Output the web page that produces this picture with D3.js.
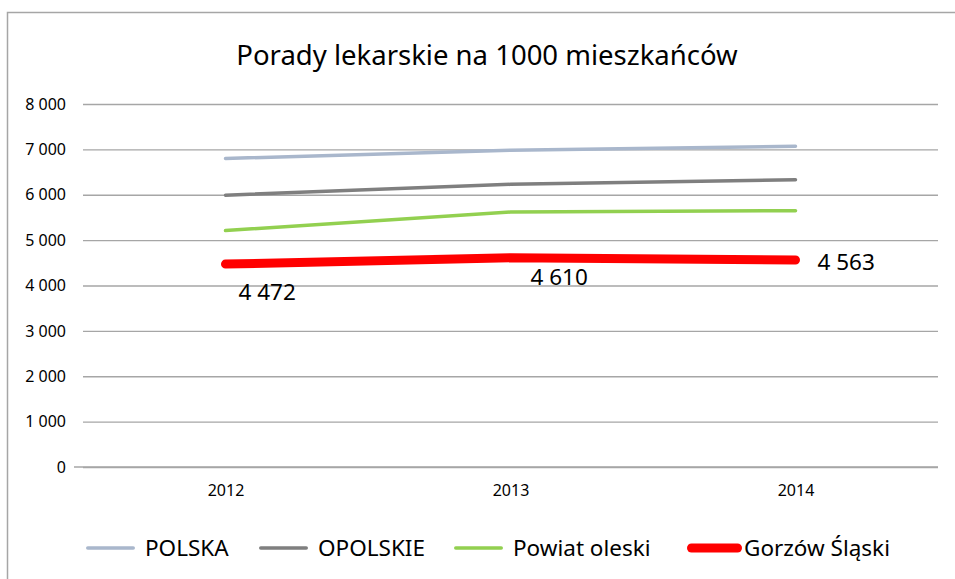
<!DOCTYPE html>
<html>
<head>
<meta charset="utf-8">
<script src="https://cdn.jsdelivr.net/npm/d3@7"></script>
<style>
  body { margin: 0; background: #fff; }
  text { font-family: "Noto Sans", "Open Sans", sans-serif; fill: #000; }
  .tick text { font-size: 16px; }
</style>
</head>
<body>
<script>
// dane
var years = ['2012', '2013', '2014'];
var seriesNames = ['POLSKA', 'OPOLSKIE', 'Powiat oleski', 'Gorzów Śląski'];
var polska = [6800, 6980, 7070];
var opolskie = [5990, 6230, 6330];
var powiat = [5210, 5620, 5650];
var gorzow = [4472, 4610, 4563];
var yTicks = [0, 1000, 2000, 3000, 4000, 5000, 6000, 7000, 8000];

var colors = ['#a9b7cc', '#7f7f7f', '#92d050', '#ff0000'];
var widths = [3.5, 3.5, 3.5, 9];
var allSeries = [polska, opolskie, powiat, gorzow];

var w = 955, h = 579;
var plotLeft = 83, plotRight = 938, plotTop = 104, plotBottom = 467;

var svg = d3.select('body').append('svg')
  .attr('width', w)
  .attr('height', h);

// ramka
svg.append('rect')
  .attr('x', 7.5).attr('y', 12.5)
  .attr('width', w + 10).attr('height', h + 10)
  .attr('fill', 'none')
  .attr('stroke', '#a6a6a6')
  .attr('stroke-width', 1.5);

// tytuł
svg.append('text')
  .attr('x', 487).attr('y', 65)
  .attr('text-anchor', 'middle')
  .attr('font-size', 27.5)
  .text('Porady lekarskie na 1000 mieszkańców');

var x = d3.scalePoint().domain(years).range([plotLeft, plotRight]).padding(0.5);
var y = d3.scaleLinear().domain([0, 8000]).range([plotBottom, plotTop]);

// siatka
var yAxis = d3.axisLeft(y)
  .tickValues(yTicks)
  .tickSize(-(plotRight - plotLeft))
  .tickPadding(17)
  .tickFormat(function(d) { return d3.format(',')(d).replace(/,/g, ' '); });

var gy = svg.append('g')
  .attr('transform', 'translate(' + plotLeft + ',0)')
  .call(yAxis);
gy.select('.domain').remove();
gy.selectAll('line').attr('stroke', '#a6a6a6').attr('stroke-width', 1.3);
gy.selectAll('text').attr('fill', '#000');

// oś x
svg.append('line')
  .attr('x1', plotLeft - 9).attr('x2', plotRight)
  .attr('y1', plotBottom).attr('y2', plotBottom)
  .attr('stroke', '#a6a6a6').attr('stroke-width', 1.3);

var gx = svg.append('g')
  .attr('transform', 'translate(0,' + plotBottom + ')')
  .call(d3.axisBottom(x).tickSize(0).tickPadding(18));
gx.select('.domain').remove();
gx.selectAll('text').attr('fill', '#000');

// linie
var line = d3.line()
  .x(function(d, i) { return x(years[i]); })
  .y(function(d) { return y(d); });

allSeries.forEach(function(s, k) {
  svg.append('path')
    .datum(s)
    .attr('d', line)
    .attr('fill', 'none')
    .attr('stroke', colors[k])
    .attr('stroke-width', widths[k])
    .attr('stroke-linecap', 'round')
    .attr('stroke-linejoin', 'round');
});

// etykiety danych (Gorzów Śląski)
var labelOffsets = [[13, 36], [20, 27], [22, 10]];
gorzow.forEach(function(v, i) {
  svg.append('text')
    .attr('x', x(years[i]) + labelOffsets[i][0])
    .attr('y', y(v) + labelOffsets[i][1])
    .attr('font-size', 22.5)
    .text(d3.format(',')(v).replace(/,/g, ' '));
});

// legenda
var legendX = [87, 260, 455, 688];
var legendLen = [48, 48, 48, 54];
seriesNames.forEach(function(name, k) {
  var g = svg.append('g');
  g.append('line')
    .attr('x1', legendX[k] + widths[k] / 2 - 1).attr('x2', legendX[k] + legendLen[k] - widths[k] / 2)
    .attr('y1', 548).attr('y2', 548)
    .attr('stroke', colors[k])
    .attr('stroke-width', widths[k])
    .attr('stroke-linecap', 'round');
  g.append('text')
    .attr('x', legendX[k] + legendLen[k] + (k == 3 ? 2 : 10))
    .attr('y', 556)
    .attr('font-size', 22.5)
    .text(name);
});
</script>
</body>
</html>
